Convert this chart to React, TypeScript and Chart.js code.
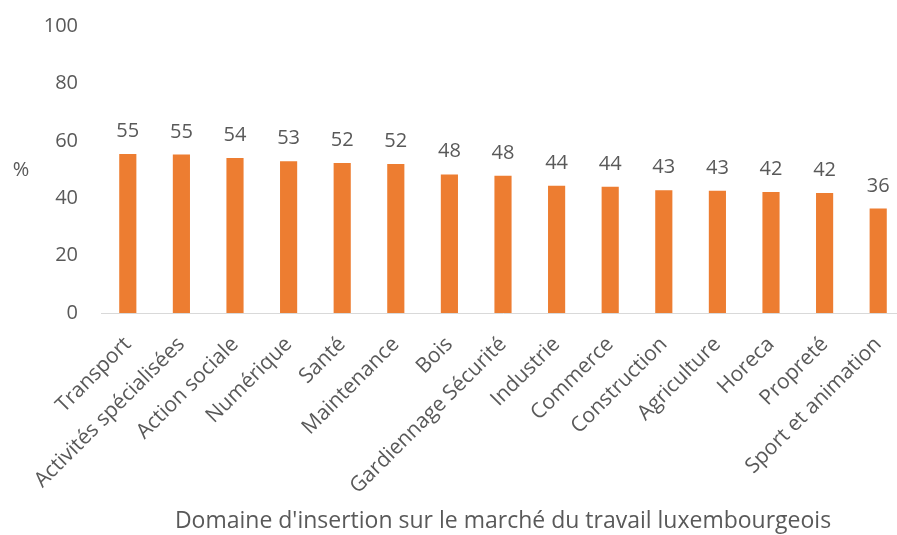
import React, { useEffect, useRef } from "react";
import { Chart, registerables } from "chart.js";

Chart.register(...registerables);

const categories = [
  "Transport",
  "Activités spécialisées",
  "Action sociale",
  "Numérique",
  "Santé",
  "Maintenance",
  "Bois",
  "Gardiennage Sécurité",
  "Industrie",
  "Commerce",
  "Construction",
  "Agriculture",
  "Horeca",
  "Propreté",
  "Sport et animation",
];

const values = [55.4, 55.2, 54.0, 52.9, 52.3, 51.9, 48.3, 47.8, 44.3, 44.0, 42.8, 42.6, 42.2, 41.8, 36.4];

const yTicks = [0, 20, 40, 60, 80, 100];

const xTitle = "Domaine d'insertion sur le marché du travail luxembourgeois";
const yTitle = "%";

const FONT = "'Open Sans'";
const TEXT = "#595959";

const labelsPlugin = {
  id: "customLabels",
  afterDatasetsDraw(chart: any) {
    const { ctx, chartArea } = chart;
    const meta = chart.getDatasetMeta(0);
    ctx.save();
    ctx.fillStyle = TEXT;
    ctx.font = `20px ${FONT}`;
    ctx.textAlign = "center";
    ctx.textBaseline = "alphabetic";
    meta.data.forEach((bar: any, i: number) => {
      ctx.fillText(String(Math.round(values[i])), bar.x, bar.y - 17);
    });
    ctx.textBaseline = "middle";
    ctx.fillText(yTitle, 21, (chartArea.top + chartArea.bottom) / 2 + 1);
    ctx.restore();
  },
};

export default function App() {
  const ref = useRef<HTMLCanvasElement>(null);
  useEffect(() => {
    if (!ref.current) return;
    const chart = new Chart(ref.current, {
      type: "bar",
      data: {
        labels: categories,
        datasets: [
          {
            data: values,
            backgroundColor: "#ED7D31",
            barPercentage: 0.32,
            categoryPercentage: 1,
          },
        ],
      },
      plugins: [labelsPlugin],
      options: {
        responsive: false,
        animation: false,
        devicePixelRatio: 1,
        layout: { padding: { top: 26, left: 0, right: 0, bottom: 0 } },
        plugins: { legend: { display: false }, tooltip: { enabled: false } },
        scales: {
          x: {
            grid: { display: true, color: "transparent", drawTicks: false },
            border: { display: true, color: "#d9d9d9", width: 1 },
            ticks: {
              autoSkip: false,
              maxRotation: 45,
              minRotation: 45,
              padding: 19,
              color: TEXT,
              font: { family: FONT, size: 21 },
            },
            title: {
              display: true,
              text: xTitle,
              color: TEXT,
              font: { family: FONT, size: 23 },
              padding: { top: 0, bottom: 0 },
            },
            afterFit(scale: any) {
              scale.height = 222;
              scale.paddingLeft = 0;
              scale.paddingRight = 0;
            },
          },
          y: {
            min: 0,
            max: 100,
            afterBuildTicks(scale: any) {
              scale.ticks = yTicks.map((v) => ({ value: v }));
            },
            grid: { display: false, drawTicks: false },
            border: { display: false },
            ticks: {
              padding: 23,
              color: TEXT,
              font: { family: FONT, size: 20 },
            },
            afterFit(scale: any) {
              scale.width = 101;
              scale.paddingTop = 0;
              scale.paddingBottom = 0;
            },
          },
        },
      },
    });
    return () => chart.destroy();
  }, []);
  return (
    <div style={{ position: "fixed", left: 0, top: 0, width: 897, height: 535, overflow: "hidden", background: "#fff" }}>
      <canvas ref={ref} width={905} height={535} style={{ display: "block" }} />
    </div>
  );
}
